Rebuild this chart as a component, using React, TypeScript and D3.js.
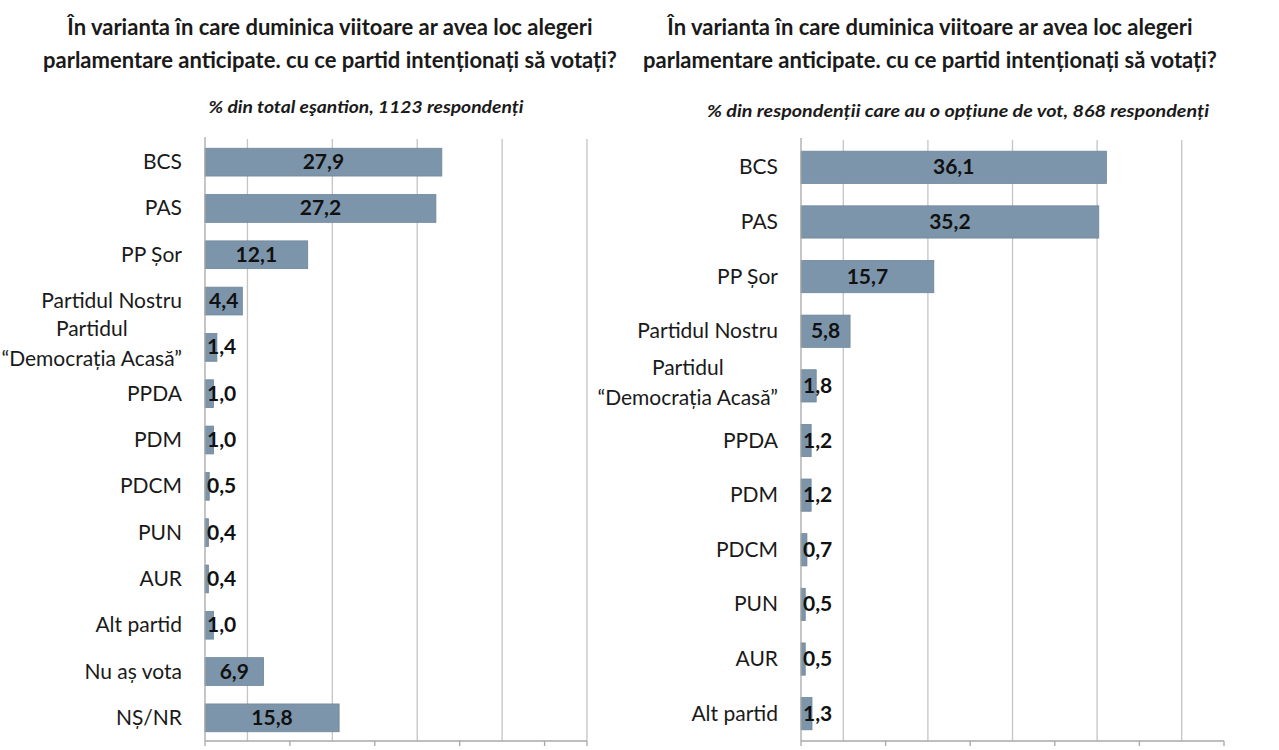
import { useEffect, useRef } from 'react'
import * as d3 from 'd3'

const titleLines = [
	'În varianta în care duminica viitoare ar avea loc alegeri',
	'parlamentare anticipate. cu ce partid intenționați să votați?',
]

const leftSubtitle = '% din total eşantion, 1123 respondenți'
const leftCategories = [
	'BCS',
	'PAS',
	'PP Șor',
	'Partidul Nostru',
	'Partidul\n“Democrația Acasă”',
	'PPDA',
	'PDM',
	'PDCM',
	'PUN',
	'AUR',
	'Alt partid',
	'Nu aș vota',
	'NȘ/NR',
]
const leftValues = [27.9, 27.2, 12.1, 4.4, 1.4, 1.0, 1.0, 0.5, 0.4, 0.4, 1.0, 6.9, 15.8]
const leftTicks = [0, 10, 20, 30, 40, 45]
const leftGrid = [5, 15, 25, 35, 45]

const rightSubtitle = '% din respondenții care au o opțiune de vot, 868 respondenți'
const rightCategories = [
	'BCS',
	'PAS',
	'PP Șor',
	'Partidul Nostru',
	'Partidul\n“Democrația Acasă”',
	'PPDA',
	'PDM',
	'PDCM',
	'PUN',
	'AUR',
	'Alt partid',
]
const rightValues = [36.1, 35.2, 15.7, 5.8, 1.8, 1.2, 1.2, 0.7, 0.5, 0.5, 1.3]
const rightTicks = [0, 10, 20, 30, 40, 50]
const rightGrid = [5, 15, 25, 35, 45]

const FONT = 'Lato, "Open Sans", sans-serif'
const BAR = '#7d95aa'
const BAR_EDGE = '#6e8699'

interface PanelSpec {
	categories: string[]
	values: number[]
	ticks: number[]
	grid: number[]
	domainMax: number
	x: [number, number]
	y: [number, number]
	padding: number
	titleX: number
	subtitle: string
	subtitleX: number
	subtitleY: number
	subtitleWidth: number
}

function drawPanel(svg: d3.Selection<SVGSVGElement, unknown, null, undefined>, p: PanelSpec) {
	const g = svg.append('g')
	const x = d3.scaleLinear().domain([0, p.domainMax]).range(p.x)
	const y = d3.scaleBand().domain(p.categories).range(p.y).paddingInner(p.padding).paddingOuter(p.padding / 2)

	// title
	g.selectAll('text.title')
		.data(titleLines)
		.join('text')
		.attr('x', p.titleX)
		.attr('y', (_, i) => 35 + i * 33)
		.attr('text-anchor', 'middle')
		.attr('font-family', FONT)
		.attr('font-weight', 700)
		.attr('font-size', 22)
		.attr('fill', '#1a1a1a')
		.text((d) => d)

	g.append('text')
		.attr('x', p.subtitleX)
		.attr('y', p.subtitleY)
		.attr('text-anchor', 'middle')
		.attr('font-family', FONT)
		.attr('font-weight', 700)
		.attr('font-style', 'italic')
		.attr('font-size', 17)
		.attr('textLength', p.subtitleWidth)
		.attr('lengthAdjust', 'spacingAndGlyphs')
		.attr('fill', '#1a1a1a')
		.text(p.subtitle)

	// gridlines
	g.selectAll('line.grid')
		.data(p.grid)
		.join('line')
		.attr('x1', (d) => x(d))
		.attr('x2', (d) => x(d))
		.attr('y1', p.y[0])
		.attr('y2', p.y[1])
		.attr('stroke', '#c4c4c4')
		.attr('stroke-width', 1.3)

	// bars
	g.selectAll('rect.bar')
		.data(p.categories)
		.join('rect')
		.attr('x', x(0))
		.attr('y', (d) => y(d)!)
		.attr('width', (_, i) => x(p.values[i]) - x(0))
		.attr('height', y.bandwidth())
		.attr('fill', BAR)
		.attr('stroke', BAR_EDGE)
		.attr('stroke-width', 0.8)

	// axes
	g.append('line')
		.attr('x1', x(0))
		.attr('x2', x(0))
		.attr('y1', p.y[0] - 2)
		.attr('y2', p.y[1])
		.attr('stroke', '#a8a8a8')
		.attr('stroke-width', 1.3)
	g.append('line')
		.attr('x1', x(0))
		.attr('x2', x(p.domainMax))
		.attr('y1', p.y[1])
		.attr('y2', p.y[1])
		.attr('stroke', '#a8a8a8')
		.attr('stroke-width', 1.3)
	g.selectAll('line.tick')
		.data(p.ticks)
		.join('line')
		.attr('x1', (d) => x(d))
		.attr('x2', (d) => x(d))
		.attr('y1', p.y[1])
		.attr('y2', p.y[1] + 5)
		.attr('stroke', '#a8a8a8')
		.attr('stroke-width', 1.3)

	// value labels
	const fmt = (v: number) => v.toFixed(1).replace('.', ',')
	g.selectAll('text.val')
		.data(p.categories)
		.join('text')
		.attr('y', (d) => y(d)! + y.bandwidth() / 2 + 7)
		.attr('font-family', FONT)
		.attr('font-weight', 700)
		.attr('font-size', 21)
		.attr('fill', '#111')
		.attr('text-anchor', 'middle')
		.text((_, i) => fmt(p.values[i]))
		.each(function (_, i) {
			const w = (this as SVGTextElement).getComputedTextLength()
			const cx = (x(0) + x(p.values[i])) / 2
			d3.select(this).attr('x', Math.max(cx, x(0) + 2 + w / 2))
		})

	// category labels
	const labelRight = x(0) - 23
	g.selectAll('text.cat')
		.data(p.categories)
		.join('text')
		.attr('font-family', FONT)
		.attr('font-size', 21)
		.attr('fill', '#1a1a1a')
		.each(function (d) {
			const lines = d.split('\n')
			const t = d3.select(this)
			const cy = y(d)! + y.bandwidth() / 2
			if (lines.length === 1) {
				t.attr('x', labelRight).attr('y', cy + 7).attr('text-anchor', 'end').text(d)
				return
			}
			t.attr('text-anchor', 'middle')
			const spans = lines.map((l, k) =>
				t.append('tspan').attr('y', cy + 4 + (k - (lines.length - 1) / 2) * 30).text(l),
			)
			const w = Math.max(...spans.map((s) => (s.node() as SVGTSpanElement).getComputedTextLength()))
			spans.forEach((s) => s.attr('x', labelRight - w / 2))
		})
}

export default function App() {
	const ref = useRef<SVGSVGElement>(null)

	useEffect(() => {
		const svg = d3.select(ref.current!)
		svg.selectAll('*').remove()
		svg.append('rect').attr('width', 1279).attr('height', 750).attr('fill', '#fff')
		drawPanel(svg, {
			categories: leftCategories,
			values: leftValues,
			ticks: leftTicks,
			grid: leftGrid,
			domainMax: 45,
			x: [205, 587],
			y: [139, 741],
			padding: 0.4,
			titleX: 330,
			subtitle: leftSubtitle,
			subtitleX: 366,
			subtitleY: 113,
			subtitleWidth: 315,
		})
		drawPanel(svg, {
			categories: rightCategories,
			values: rightValues,
			ticks: rightTicks,
			grid: rightGrid,
			domainMax: 50,
			x: [801, 1224],
			y: [140, 741],
			padding: 0.41,
			titleX: 930,
			subtitle: rightSubtitle,
			subtitleX: 958,
			subtitleY: 117,
			subtitleWidth: 502,
		})
	}, [])

	return (
		<svg
			ref={ref}
			width={1279}
			height={750}
			style={{ position: 'absolute', left: 0, top: 0, display: 'block' }}
		/>
	)
}
